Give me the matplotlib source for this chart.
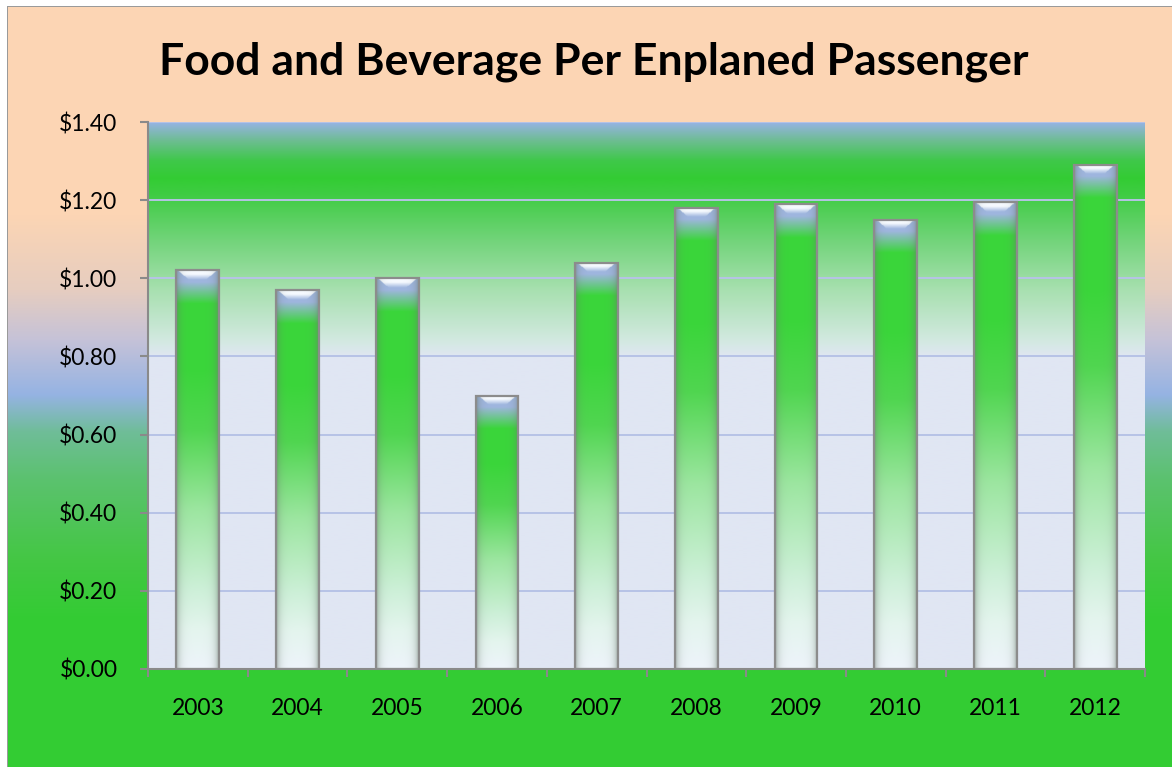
import numpy as np
import matplotlib
matplotlib.use("Agg")
import matplotlib.pyplot as plt
from matplotlib.colors import to_rgb

plt.rcParams['font.family'] = ['Lato', 'DejaVu Sans']

# data
years = ['2003', '2004', '2005', '2006', '2007', '2008', '2009', '2010', '2011', '2012']
values = [1.02, 0.97, 1.00, 0.70, 1.04, 1.18, 1.19, 1.15, 1.195, 1.29]
yticks = [0.0, 0.2, 0.4, 0.6, 0.8, 1.0, 1.2, 1.4]
title = 'Food and Beverage Per Enplaned Passenger'

W, H = 1172, 767


def gradient(stops, n):
    """stops: list of (pos 0..1, color) -> (n, 3) array"""
    pos = np.array([s[0] for s in stops])
    cols = np.array([to_rgb(s[1]) for s in stops])
    t = np.linspace(0, 1, n)
    return np.stack([np.interp(t, pos, cols[:, k]) for k in range(3)], axis=1)


fig = plt.figure(figsize=(W / 100, H / 100), dpi=100)
fig.patch.set_facecolor('#33cc33')

# ---- chart-area background (peach -> blue -> green) ----
bg_stops = [(0, '#fcd5b4'), (215 / H, '#fcd5b4'), (290 / H, '#e6cdc0'),
            (340 / H, '#c5c2d8'), (395 / H, '#95b3e3'), (432 / H, '#6fbd98'),
            (480 / H, '#5bc26e'), (560 / H, '#44c744'), (620 / H, '#33cc33'),
            (1, '#33cc33')]
col = gradient(bg_stops, H)
bg = np.repeat(col[:, None, :], W, axis=1)
bg[:6, :, :] = 1.0
bg[:, :7, :] = 1.0
bg[6, 7:, :] = to_rgb('#9a9a9a')
bg[6:, 7, :] = to_rgb('#9a9a9a')
bax = fig.add_axes([0, 0, 1, 1], zorder=-5)
bax.imshow(bg, aspect='auto', extent=[0, W, H, 0], interpolation='nearest')
bax.set_xlim(0, W)
bax.set_ylim(H, 0)
bax.set_axis_off()

# ---- plot area ----
left, right, top, bottom = 148, 1145, 122, 669
ax = fig.add_axes([left / W, (H - bottom) / H, (right - left) / W, (bottom - top) / H])
x = np.arange(1, len(years) + 1)
ax.set_xlim(0.5, len(years) + 0.5)
ax.set_ylim(0, 1.4)

ph = bottom - top
pa_stops = [(0, '#e0e6f3'), ((669 - 357) / ph, '#e0e6f3'), ((669 - 340) / ph, '#d2e9e0'),
            ((669 - 290) / ph, '#a8e0b0'), ((669 - 240) / ph, '#72d47a'),
            ((669 - 195) / ph, '#40cc45'), ((669 - 178) / ph, '#33cc33'),
            ((669 - 160) / ph, '#3fc84a'), ((669 - 140) / ph, '#6dbd92'), (1, '#96b3e3')]
pcol = gradient(pa_stops, 400)
ax.imshow(pcol[:, None, :], aspect='auto', extent=[0.5, len(years) + 0.5, 0, 1.4],
          origin='lower', interpolation='bilinear', zorder=0)

ax.set_axisbelow(True)
ax.yaxis.grid(True, color='#b6c3e6', linewidth=1.4)

# ---- bars with glassy gradient fill ----
bw = 0.43
bars = ax.bar(x, values, width=bw, color='none', edgecolor='#8c8c8c', linewidth=1.6, zorder=3)

body_stops = [(0, '#eef4fb'), (0.1, '#e4f5ee'), (0.2, '#cdf0d8'), (0.4, '#9ce6a0'),
              (0.6, '#50d650'), (0.75, '#3ad63a'), (1, '#3ad63a')]
cap = 0.028
nr, nc = 600, 60
s = np.linspace(0, 1, nc)
edge = 0.55 * (np.exp(-s / 0.08) + np.exp(-(1 - s) / 0.08))
edge = np.clip(edge, 0, 0.6)
for b, v in zip(bars, values):
    body = gradient(body_stops, nr)
    img = np.repeat(body[:, None, :], nc, axis=1)
    yy = np.linspace(0, v, nr)
    # blue transition just below the cap
    tr = np.clip((yy - (v - 0.085)) / 0.055, 0, 1)[:, None, None]
    img = img * (1 - tr) + np.array(to_rgb('#9fb6df')) * tr
    # cap bevel: whitish trapezoid
    u = np.clip((yy - (v - cap)) / cap, 0, 1)
    inside = np.abs(s[None, :] - 0.5) < (0.46 - 0.3 * (1 - u[:, None]))
    wht = (np.clip((u - 0.15) / 0.5, 0, 1)[:, None] * inside)[:, :, None]
    img = img * (1 - wht) + np.array(to_rgb('#f6faff')) * wht
    # darker side edges
    e = edge[None, :, None]
    img = img * (1 - e) + np.array(to_rgb('#6a786b')) * e
    cx = b.get_x()
    im = ax.imshow(img, aspect='auto', origin='lower', interpolation='bilinear',
                   extent=[cx, cx + bw, 0, v], zorder=2)
    im.set_clip_path(b)

# ---- axes styling ----
for sp in ['top', 'right']:
    ax.spines[sp].set_visible(False)
for sp in ['left', 'bottom']:
    ax.spines[sp].set_color('#8a8a8a')
    ax.spines[sp].set_linewidth(1.5)

ax.set_yticks(yticks, labels=['${:.2f}'.format(t) for t in yticks])
ax.tick_params(axis='y', direction='out', length=6, width=1.5, color='#8a8a8a',
               pad=16, labelsize=16.5)
ax.set_xticks(x, labels=years)
ax.set_xticks(np.arange(0.5, len(years) + 1), minor=True)
ax.tick_params(axis='x', which='major', length=0, pad=21, labelsize=16.5)
ax.tick_params(axis='x', which='minor', direction='out', length=6, width=1.5, color='#8a8a8a')

fig.text(594 / W, 1 - 62 / H, title, ha='center', va='center',
         fontsize=32, fontweight='bold', color='black')

fig.savefig('out.png', dpi=100)
